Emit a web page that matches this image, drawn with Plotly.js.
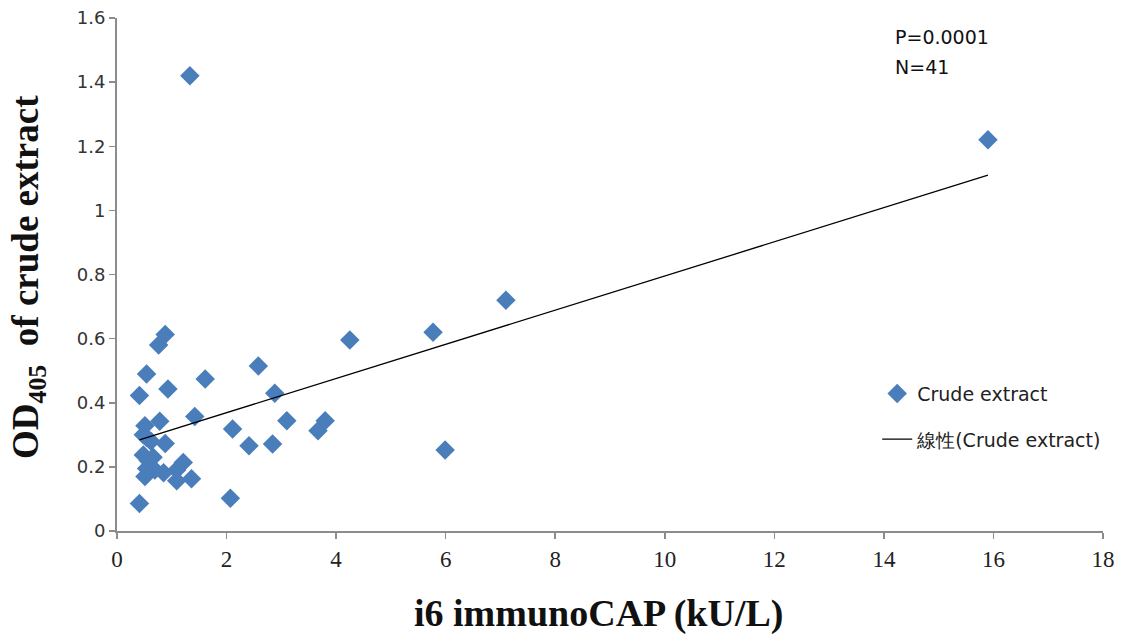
<!DOCTYPE html>
<html>
<head>
<meta charset="utf-8">
<script src="https://cdn.plot.ly/plotly-3.0.1.min.js"></script>
<style>html,body{margin:0;padding:0;background:#fff;}#chart{width:1142px;height:639px;}</style>
</head>
<body>
<div id="chart"></div>
<script>
// i6 immunoCAP (kU/L)
const capValues = [1.33, 15.9, 7.1, 5.77, 4.25, 5.99, 0.88, 0.76, 2.58, 0.54,
  1.61, 0.93, 0.41, 2.88, 1.42, 0.78, 3.10, 3.80, 3.67, 2.11,
  0.51, 0.48, 0.54, 0.88, 2.41, 2.84, 0.48, 0.57, 0.54, 0.69,
  0.51, 0.85, 1.21, 1.09, 1.09, 1.36, 2.07, 0.41, 0.62, 0.60, 0.66];
// OD405 of crude extract
const odValues = [1.42, 1.22, 0.72, 0.62, 0.596, 0.253, 0.613, 0.58, 0.515, 0.49,
  0.474, 0.443, 0.423, 0.43, 0.357, 0.342, 0.344, 0.344, 0.313, 0.318,
  0.328, 0.30, 0.292, 0.273, 0.266, 0.271, 0.237, 0.22, 0.195, 0.19,
  0.17, 0.182, 0.214, 0.19, 0.157, 0.163, 0.102, 0.086, 0.28, 0.20, 0.23];
const seriesName = 'Crude extract';
const trendName = '線性(Crude extract)';
const annotationLines = ['P=0.0001', 'N=41'];
const xTicks = [0, 2, 4, 6, 8, 10, 12, 14, 16, 18];
const yTicks = [0, 0.2, 0.4, 0.6, 0.8, 1, 1.2, 1.4, 1.6];
const yTickText = ['0', '0.2', '0.4', '0.6', '0.8', '1', '1.2', '1.4', '1.6'];
const xTitle = 'i6 immunoCAP (kU/L)';
const yTitle = 'OD<sub>405</sub>  of crude extract';

// least-squares linear trend
const n = capValues.length;
const mx = capValues.reduce((a, b) => a + b, 0) / n;
const my = odValues.reduce((a, b) => a + b, 0) / n;
let sxy = 0, sxx = 0;
for (let i = 0; i < n; i++) { sxy += (capValues[i] - mx) * (odValues[i] - my); sxx += (capValues[i] - mx) ** 2; }
const slope = sxy / sxx, intercept = my - slope * mx;
const trendX = [Math.min(...capValues), Math.max(...capValues)];
const trendY = trendX.map(x => intercept + slope * x);

const traces = [
  {x: capValues, y: odValues, mode: 'markers', type: 'scatter', name: seriesName,
   legendgroup: 'a',
   marker: {symbol: 'diamond', size: 15, color: '#4a7ebb'}},
  {x: trendX, y: trendY, mode: 'lines', type: 'scatter', name: trendName,
   legendgroup: 'b',
   line: {color: '#000', width: 1.3}}
];

const serif = 'Liberation Serif, Times New Roman, serif';
const sans = 'DejaVu Sans, Verdana, sans-serif';

const layout = {
  width: 1142, height: 639,
  margin: {l: 117, r: 39, t: 18, b: 108},
  paper_bgcolor: '#fff', plot_bgcolor: '#fff',
  showlegend: true,
  legend: {x: 0.771, xanchor: 'left', y: 0.305, yanchor: 'top', tracegroupgap: 18,
    font: {family: sans, size: 19, color: '#222'},
    bgcolor: 'rgba(0,0,0,0)'},
  xaxis: {range: [0, 18], tickvals: xTicks, ticktext: xTicks.map(String),
    showgrid: false, zeroline: false, showline: true, linecolor: '#8c8c8c', linewidth: 2,
    ticks: 'outside', ticklen: 6, tickcolor: '#8c8c8c', tickwidth: 1.5,
    tickfont: {family: serif, size: 23, color: '#222'}},
  yaxis: {range: [0, 1.6], tickvals: yTicks, ticktext: yTickText,
    showgrid: false, zeroline: false, showline: true, linecolor: '#8c8c8c', linewidth: 2,
    ticks: 'outside', ticklen: 6, tickcolor: '#8c8c8c', tickwidth: 1.5,
    tickfont: {family: sans, size: 18, color: '#333'}},
  annotations: [
    {xref: 'paper', yref: 'paper', x: -0.0903, y: 0.495, xanchor: 'center', yanchor: 'middle',
     textangle: -90, text: '<b>' + yTitle + '</b>', showarrow: false,
     font: {family: serif, size: 37, color: '#111'}},
    {xref: 'paper', yref: 'paper', x: 0.488, y: -0.16, xanchor: 'center', yanchor: 'middle',
     text: '<b>' + xTitle + '</b>', showarrow: false,
     font: {family: serif, size: 38, color: '#111'}},
    {xref: 'paper', yref: 'paper', x: 0.787, y: 0.962, xanchor: 'left', yanchor: 'middle',
     text: annotationLines[0], showarrow: false, align: 'left',
     font: {family: sans, size: 19, color: '#111'}},
    {xref: 'paper', yref: 'paper', x: 0.787, y: 0.905, xanchor: 'left', yanchor: 'middle',
     text: annotationLines[1], showarrow: false, align: 'left',
     font: {family: sans, size: 19, color: '#111'}}
  ]
};

Plotly.newPlot('chart', traces, layout, {displayModeBar: false, staticPlot: true});
</script>
</body>
</html>
